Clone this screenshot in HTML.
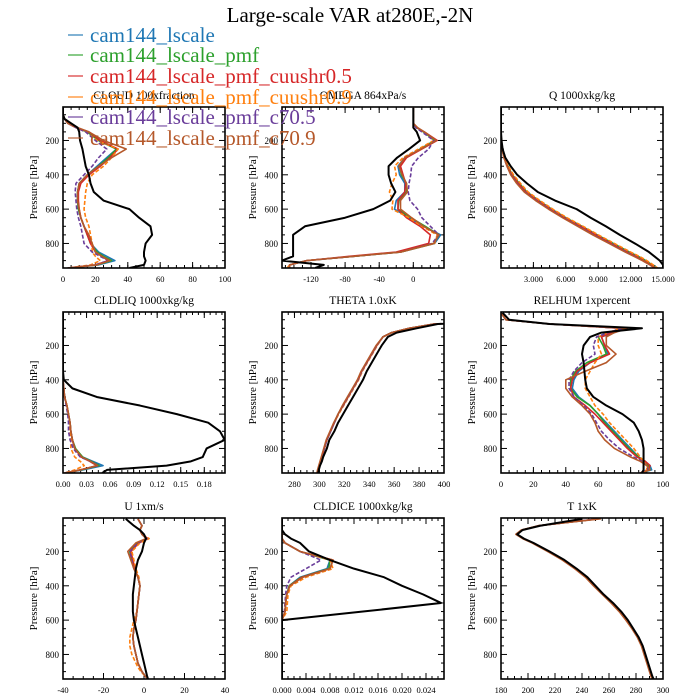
<!DOCTYPE html>
<html><head><meta charset="utf-8"><style>
html,body{margin:0;padding:0;background:#fff;}
svg{display:block;font-family:"Liberation Serif",serif;}
</style></head><body>
<svg id="fig" width="700" height="700" viewBox="0 0 700 700" xmlns="http://www.w3.org/2000/svg">
<text x="350" y="22" font-size="21" text-anchor="middle">Large-scale VAR at280E,-2N</text>
<g id="panels"></g>
<g id="legend"></g>
</svg>
<script>
const LEVELS = [10,50,75,100,125,150,200,250,300,350,400,450,500,550,600,650,700,750,800,850,875,900,925,943];
const SERIES_NAMES = ["cam144_lscale","cam144_lscale_pmf","cam144_lscale_pmf_cuushr0.5","cam144_lscale_pmf_cuushr0.9","cam144_lscale_pmf_c70.5","cam144_lscale_pmf_c70.9"];
const SERIES_COLORS = ["#1f77b4","#2ca02c","#d62728","#ff7f0e","#6a3d9a","#b5582a"];
const SERIES_DASH = ["","","","4,2","4,2",""];

const CLOUD_obs = [0,0,1,5,9,10,10.5,12,13,14,16,17,19,25,41,47,54,55,51,50,50,51,50,41];
const CLOUD_m1 = [0,0,1,3,8,15,22,33,27,21,15,10,9,9,9.5,11,13,15,17,22,27,32,22,3];
const CLOUD_m2 = [0,0,1,3,8,15,22,33,28,22,15,10,9,9,9.5,11,13,15,17,21,25,30,21,3];
const CLOUD_m3 = [0,0,1,3,8,16,23,34,29,23,16,11,9.5,9.5,10,11,13,15,17,20,24,28,20,3];
const CLOUD_m4 = [0,0,1,3,8,14,21,34,30,25,18,15,14,13.5,13,14,16,17,18,18,20,23,17,3];
const CLOUD_m5 = [0,0,1,3,8,14,20,27,22,18,13,8,7.5,8,8.5,9.5,11,12,13,18,23,28,20,3];
const CLOUD_m6 = [0,0,1,3,9,16,25,39,30,22,15,10,9,9,10,11,13,16,18,20,24,29,21,3];

const OMEGA_obs = [0,0,0,0,0,4,8,-5,-19,-29,-29,-26,-21,-27,-47,-80,-127,-141,-141,-141,-141,-154,-105,-115];
const OMEGA_m1 = [0,0,0,0,4,12,26,8,-10,-18,-16,-10,-10,-20,-22,-5,12,32,25,-15,-70,-125,-145,-145];
const OMEGA_m2 = [0,0,0,0,4,12,25,8,-8,-16,-14,-8,-8,-17,-18,-3,14,30,24,-15,-70,-125,-145,-145];
const OMEGA_m3 = [0,0,0,0,4,13,28,10,-8,-15,-12,-9,-10,-18,-18,-8,8,20,18,-20,-75,-125,-145,-145];
const OMEGA_m4 = [0,0,0,0,4,12,24,6,-12,-22,-20,-25,-28,-24,-25,-5,10,28,25,-15,-70,-125,-145,-148];
const OMEGA_m5 = [0,0,0,0,3,10,24,18,6,-2,-3,-5,-6,-4,5,10,20,30,22,-15,-70,-125,-145,-145];
const OMEGA_m6 = [0,0,0,0,5,13,27,9,-10,-17,-13,-8,-7,-15,-15,-2,12,30,24,-15,-70,-125,-145,-145];

const Q_obs = [0,0,0,0,0,0,0.05,0.15,0.4,0.9,1.5,2.4,3.4,5.0,7.0,8.3,9.7,11.0,12.4,13.7,14.2,14.7,15,15];
const Q_m1 = [0,0,0,0,0,0,0.03,0.1,0.3,0.6,1.0,1.6,2.3,3.4,4.6,5.9,7.4,8.8,10.3,11.8,12.6,13.3,14.0,14.4];
const Q_m2 = [0,0,0,0,0,0,0.03,0.1,0.3,0.65,1.05,1.7,2.4,3.5,4.7,6.0,7.5,8.9,10.4,11.9,12.7,13.4,14.0,14.4];
const Q_m3 = [0,0,0,0,0,0,0.03,0.1,0.3,0.6,1.0,1.6,2.3,3.4,4.6,5.9,7.4,8.8,10.2,11.7,12.5,13.2,13.9,14.3];
const Q_m4 = [0,0,0,0,0,0,0.04,0.12,0.35,0.7,1.15,1.8,2.5,3.6,4.8,6.1,7.6,9.0,10.5,12.0,12.8,13.5,14.1,14.5];
const Q_m5 = [0,0,0,0,0,0,0.03,0.09,0.27,0.55,0.95,1.5,2.2,3.3,4.5,5.8,7.2,8.6,10.1,11.6,12.4,13.1,13.8,14.2];
const Q_m6 = [0,0,0,0,0,0,0.03,0.09,0.27,0.55,0.9,1.45,2.15,3.2,4.4,5.7,7.1,8.5,10.0,11.5,12.3,13.1,13.8,14.2];

const CLDLIQ_obs = [0,0,0,0,0,0,0,0,0,0,0.001,0.012,0.043,0.098,0.145,0.185,0.2,0.206,0.183,0.178,0.163,0.132,0.056,0.05];
const CLDLIQ_m1 = [0,0,0,0,0,0,0,0,0,0,0,0.001,0.002,0.005,0.007,0.009,0.010,0.012,0.015,0.025,0.038,0.051,0.025,0.002];
const CLDLIQ_m2 = [0,0,0,0,0,0,0,0,0,0,0,0.001,0.002,0.005,0.007,0.009,0.010,0.012,0.016,0.025,0.036,0.046,0.023,0.002];
const CLDLIQ_m3 = [0,0,0,0,0,0,0,0,0,0,0,0.001,0.002,0.005,0.007,0.009,0.010,0.012,0.015,0.023,0.034,0.043,0.022,0.002];
const CLDLIQ_m4 = [0,0,0,0,0,0,0,0,0,0,0,0.001,0.002,0.005,0.007,0.008,0.009,0.010,0.010,0.015,0.022,0.027,0.015,0.002];
const CLDLIQ_m5 = [0,0,0,0,0,0,0,0,0,0,0,0.001,0.002,0.004,0.006,0.007,0.007,0.009,0.013,0.022,0.035,0.045,0.022,0.002];
const CLDLIQ_m6 = [0,0,0,0,0,0,0,0,0,0,0,0.001,0.002,0.005,0.007,0.009,0.010,0.012,0.015,0.024,0.035,0.044,0.022,0.002];

const THETA_obs = [600,480,395,378,362,355,350,346,342,338,335,331,327,323,319,315,312,308,306,303,302,300.5,299.5,299];
const THETA_m1 = [600,480,392,372,358,351,346,342,338,334,331,327,323,319,315,312,309,306,304,302,301,300,299,298.5];
const THETA_m2 = [600,480,392,372,358,351,346,342,338,334,331,327,323,319,315,312,309,306,304,302,301,300,299,298.5];
const THETA_m3 = [600,480,392,372,358,351,346,342,338,334,331,327,323,319,315,312,309,306,304,302,301,300,299,298.5];
const THETA_m4 = [600,480,392,372,358,351,346.5,342.5,338.5,334.5,331.5,327.5,323.5,319.5,315.5,312,309,306,304,302,301,300,299,298.5];
const THETA_m5 = [600,480,392,372,358,351,346,342,338,334,331,327,323,319,315,312,309,306,304,302,301,300,299,298.5];
const THETA_m6 = [600,480,392,372,358,351,345.5,341.5,337.5,333.5,330.5,326.5,322.5,318.5,315,311.5,308.5,305.5,303.5,301.5,300.5,299.5,298.5,298];

const RELHUM_obs = [1,5,30,87,62,55,51,50,51,51.5,52,53,57,65,75,82,85,87,88,88,88,88,88,87];
const RELHUM_m1 = [0,3,30,78,70,62,64,66,55,48,45,44,48,55,60,65,70,75,80,85,89,92,93,86];
const RELHUM_m2 = [0,3,30,76,68,60,63,65,53,46,43,43,47,55,60,64,69,74,79,85,89,91,92,86];
const RELHUM_m3 = [0,3,30,75,68,62,64,67,55,47,44,43,45,52,58,63,68,73,78,84,89,92,91,86];
const RELHUM_m4 = [0,3,30,74,66,60,60,62,58,55,52,52,55,58,63,67,72,77,82,86,88,90,90,86];
const RELHUM_m5 = [0,3,30,75,66,59,57,58,50,45,42,42,45,51,56,59,62,67,73,82,87,90,91,85];
const RELHUM_m6 = [0,3,30,78,70,65,65,71,65,52,40,40,44,50,55,58,60,64,70,80,86,90,92,86];

const U_obs = [-9,-5,-2,0,1,0,-1,-3,-4,-4.5,-5,-5.5,-5.5,-5.5,-5,-4,-3,-2,-1,0,0.5,1,1.5,2];
const U_m1 = [-3,-1,-2,-1,1.5,-3,-7,-6,-5,-3,-2,-2.5,-3,-3.5,-4,-5,-5.5,-5,-4,-3,-2,-1,0.5,2];
const U_m2 = [-3,-1,-2,-1,1.5,-3,-7,-6,-4.5,-3,-2,-2.5,-3,-3.5,-4,-5,-5.5,-5,-4,-3,-2,-1,0.5,2];
const U_m3 = [-3,-1,-2,-1,2,-2.5,-6.5,-5.5,-4.5,-3,-2,-2.5,-3,-3.5,-4,-5,-5.5,-5,-4,-3,-2,-1,0.5,2];
const U_m4 = [-3,-1,-2,-1,2.5,-2,-6,-5,-4,-2.5,-2,-2.5,-3,-3.5,-5,-6,-7,-7,-6,-4,-3,-1.5,0.5,2];
const U_m5 = [-3,-1,-2,-1,1.5,-3,-7,-6,-5,-3,-2,-2.5,-3,-3.5,-4,-5,-5.5,-5,-4,-3,-2,-1,0.5,2];
const U_m6 = [-3,-1,-2,-1,1,-4,-8,-6.5,-5,-3,-2,-2.5,-3,-3.5,-4,-5,-5.5,-5,-4,-3,-2,-1,0.5,2];

const CLDICE_obs = [0,0,0,0.0005,0.0015,0.003,0.0045,0.008,0.012,0.017,0.02,0.0235,0.0265,0.0135,0,0,0,0,0,0,0,0,0,0];
const CLDICE_m1 = [0,0,0,0,0,0.0005,0.003,0.008,0.0075,0.003,0.0012,0.0008,0.0006,0.0005,0,0,0,0,0,0,0,0,0,0];
const CLDICE_m2 = [0,0,0,0,0,0.0005,0.003,0.008,0.0078,0.0032,0.0012,0.0008,0.0006,0.0005,0,0,0,0,0,0,0,0,0,0];
const CLDICE_m3 = [0,0,0,0,0,0.0005,0.003,0.0085,0.008,0.0033,0.0013,0.0008,0.0006,0.0005,0,0,0,0,0,0,0,0,0,0];
const CLDICE_m4 = [0,0,0,0,0,0.0005,0.003,0.008,0.0085,0.004,0.0015,0.001,0.0009,0.0008,0,0,0,0,0,0,0,0,0,0];
const CLDICE_m5 = [0,0,0,0,0,0.0005,0.003,0.0065,0.004,0.0015,0.0008,0.0006,0.0005,0.0004,0,0,0,0,0,0,0,0,0,0];
const CLDICE_m6 = [0,0,0,0,0,0.0005,0.003,0.0085,0.008,0.0035,0.0013,0.0008,0.0006,0.0005,0,0,0,0,0,0,0,0,0,0];

const T_obs = [240,209,196,192,197,204,216,227,236,244,250,256,263,269,274,278,282,285,287,289,290,291,292,293];
const T_m1 = [252,208,195.5,191.5,196.5,203.5,215,226,235,243,249,255.5,262,268,273,277.5,281.5,284.5,286.5,288.5,289.5,290.5,291.5,292.5];
const T_m2 = [252,208,195.5,191.5,196.5,203.5,215,226,235,243,249,255.5,262,268,273,277.5,281.5,284.5,286.5,288.5,289.5,290.5,291.5,292.5];
const T_m3 = [252,208,195.5,191.5,196.5,203.5,215,226,235,243,249,255.5,262,268,273,277.5,281.5,284.5,286.5,288.5,289.5,290.5,291.5,292.5];
const T_m4 = [252,208,195.5,191.5,196.5,203.5,215,226,235,243,249,255.5,262,268,273,277.5,281.5,284.5,286.5,288.5,289.5,290.5,291.5,292.5];
const T_m5 = [252,208,195.5,191.5,196.5,203.5,215,226,235,243,249,255.5,262,268,273,277.5,281.5,284.5,286.5,288.5,289.5,290.5,291.5,292.5];
const T_m6 = [254,207.5,195,191,196,203,214.5,225.5,234.5,242.5,248.5,255,261.5,267.5,272.5,277,281,284,286,288,289,290,291,292];

const CLOUD_ticks = [0,20,40,60,80,100];
const OMEGA_ticks = [-120,-80,-40,0];
const Q_ticks = [3,6,9,12,15];
const CLDLIQ_ticks = [0,0.03,0.06,0.09,0.12,0.15,0.18];
const THETA_ticks = [280,300,320,340,360,380,400];
const RELHUM_ticks = [0,20,40,60,80,100];
const U_ticks = [-40,-20,0,20,40];
const CLDICE_ticks = [0,0.004,0.008,0.012,0.016,0.020,0.024];
const T_ticks = [180,200,220,240,260,280,300];
const P_ticks = [200,400,600,800];

const NS = "http://www.w3.org/2000/svg";
function mk(tag, attrs, parent){
  const e = document.createElementNS(NS, tag);
  for (const k in attrs) e.setAttribute(k, attrs[k]);
  if (parent) parent.appendChild(e);
  return e;
}
const P0 = 5, P1 = 943;
const panels = [
  {key:"cloud", title:"CLOUD  100xfraction", x0:63, y0:107, xmin:0, xmax:100, ticks:CLOUD_ticks, minor:5, dec:0, obs:CLOUD_obs, m:[CLOUD_m1,CLOUD_m2,CLOUD_m3,CLOUD_m4,CLOUD_m5,CLOUD_m6]},
  {key:"omega", title:"OMEGA  864xPa/s", x0:282, y0:107, xmin:-154, xmax:36, ticks:OMEGA_ticks, minor:10, dec:0, obs:OMEGA_obs, m:[OMEGA_m1,OMEGA_m2,OMEGA_m3,OMEGA_m4,OMEGA_m5,OMEGA_m6]},
  {key:"q", title:"Q  1000xkg/kg", x0:501, y0:107, xmin:0, xmax:15, ticks:Q_ticks, minor:0.75, dec:3, obs:Q_obs, m:[Q_m1,Q_m2,Q_m3,Q_m4,Q_m5,Q_m6]},
  {key:"cldliq", title:"CLDLIQ  1000xkg/kg", x0:63, y0:312, xmin:0, xmax:0.2064, ticks:CLDLIQ_ticks, minor:0.0075, dec:2, obs:CLDLIQ_obs, m:[CLDLIQ_m1,CLDLIQ_m2,CLDLIQ_m3,CLDLIQ_m4,CLDLIQ_m5,CLDLIQ_m6]},
  {key:"theta", title:"THETA  1.0xK", x0:282, y0:312, xmin:270, xmax:400, ticks:THETA_ticks, minor:5, dec:0, obs:THETA_obs, m:[THETA_m1,THETA_m2,THETA_m3,THETA_m4,THETA_m5,THETA_m6]},
  {key:"relhum", title:"RELHUM  1xpercent", x0:501, y0:312, xmin:0, xmax:100, ticks:RELHUM_ticks, minor:5, dec:0, obs:RELHUM_obs, m:[RELHUM_m1,RELHUM_m2,RELHUM_m3,RELHUM_m4,RELHUM_m5,RELHUM_m6]},
  {key:"u", title:"U  1xm/s", x0:63, y0:518, xmin:-40, xmax:40, ticks:U_ticks, minor:5, dec:0, obs:U_obs, m:[U_m1,U_m2,U_m3,U_m4,U_m5,U_m6]},
  {key:"cldice", title:"CLDICE  1000xkg/kg", x0:282, y0:518, xmin:0, xmax:0.027, ticks:CLDICE_ticks, minor:0.001, dec:3, obs:CLDICE_obs, m:[CLDICE_m1,CLDICE_m2,CLDICE_m3,CLDICE_m4,CLDICE_m5,CLDICE_m6]},
  {key:"t", title:"T  1xK", x0:501, y0:518, xmin:180, xmax:300, ticks:T_ticks, minor:5, dec:0, obs:T_obs, m:[T_m1,T_m2,T_m3,T_m4,T_m5,T_m6]}
];
const W = 162, H = 161;
const root = document.getElementById("panels");
panels.forEach((pn, pi) => {
  const g = mk("g", {}, root);
  
  
  const xs = v => pn.x0 + (v - pn.xmin) / (pn.xmax - pn.xmin) * W;
  const ys = p => pn.y0 + (p - P0) / (P1 - P0) * H;
  const cid = "clip" + pi;
  const cp = mk("clipPath", {id: cid}, g);
  mk("rect", {x: pn.x0, y: pn.y0, width: W, height: H}, cp);
  const t = mk("text", {x: pn.x0 + W/2, y: pn.y0 - 8, "font-size": 11.5, "text-anchor": "middle"}, g);
  t.textContent = pn.title;
  
  
  const yl = mk("text", {x: 0, y: 0, "font-size": 11, "text-anchor": "middle", transform: `translate(${pn.x0-26},${pn.y0+H/2}) rotate(-90)`}, g);
  yl.textContent = "Pressure [hPa]";
  
  
  const ax = mk("g", {stroke: "#000", "stroke-width": 1}, g);
  
  
  for (let p = 50; p < P1; p += 50) {
    const y = ys(p);
    const major = P_ticks.includes(p);
    const L = major ? 6 : 3;
    mk("line", {x1: pn.x0, x2: pn.x0 + L, y1: y, y2: y}, ax);
    mk("line", {x1: pn.x0 + W, x2: pn.x0 + W - L, y1: y, y2: y}, ax);
  }
  P_ticks.forEach(p => {
    const tl = mk("text", {x: pn.x0 - 4, y: ys(p) + 3.5, "font-size": 9, "text-anchor": "end"}, g);
    tl.textContent = p;
    
    
  });
  const start = Math.ceil(pn.xmin / pn.minor - 1e-9);
  for (let i = start; i * pn.minor <= pn.xmax + 1e-9; i++) {
    const x = xs(i * pn.minor);
    mk("line", {x1: x, x2: x, y1: pn.y0 + H, y2: pn.y0 + H - 3}, ax);
    mk("line", {x1: x, x2: x, y1: pn.y0, y2: pn.y0 + 3}, ax);
  }
  pn.ticks.forEach(v => {
    const x = xs(v);
    mk("line", {x1: x, x2: x, y1: pn.y0 + H, y2: pn.y0 + H - 6}, ax);
    mk("line", {x1: x, x2: x, y1: pn.y0, y2: pn.y0 + 6}, ax);
    const tl = mk("text", {x: x, y: pn.y0 + H + 14, "font-size": 8.5, "text-anchor": "middle"}, g);
    tl.textContent = v.toFixed(pn.dec);
    
    
  });
  const sg = mk("g", {"clip-path": `url(#${cid})`, fill: "none", "stroke-linejoin": "round"}, g);
  pn.m.forEach((arr, si) => {
    const d = arr.map((v, i) => (i ? "L" : "M") + xs(v).toFixed(2) + "," + ys(LEVELS[i]).toFixed(2)).join("");
    const pth = mk("path", {d: d, stroke: SERIES_COLORS[si], "stroke-width": 1.6}, sg);
    if (SERIES_DASH[si]) pth.setAttribute("stroke-dasharray", SERIES_DASH[si]);
    
    
  });
  const od = pn.obs.map((v, i) => (i ? "L" : "M") + xs(v).toFixed(2) + "," + ys(LEVELS[i]).toFixed(2)).join("");
  const op = mk("path", {d: od, stroke: "#000", "stroke-width": 2}, sg);
  
  
  const fr = mk("rect", {x: pn.x0, y: pn.y0, width: W, height: H, fill: "none", stroke: "#000", "stroke-width": 1.6}, g);
  
  
});
const lg = document.getElementById("legend");
const LEG_Y = [35, 55, 76, 97, 117, 138];
SERIES_NAMES.forEach((n, i) => {
  const e = mk("g", {}, lg);
  
  
  mk("line", {x1: 68, x2: 83, y1: LEG_Y[i], y2: LEG_Y[i], stroke: SERIES_COLORS[i], "stroke-width": 1.6, opacity: 0.7}, e);
  const tx = mk("text", {x: 90, y: LEG_Y[i] + 7, "font-size": 21, fill: SERIES_COLORS[i]}, e);
  tx.textContent = n;
});
</script>
</body></html>
